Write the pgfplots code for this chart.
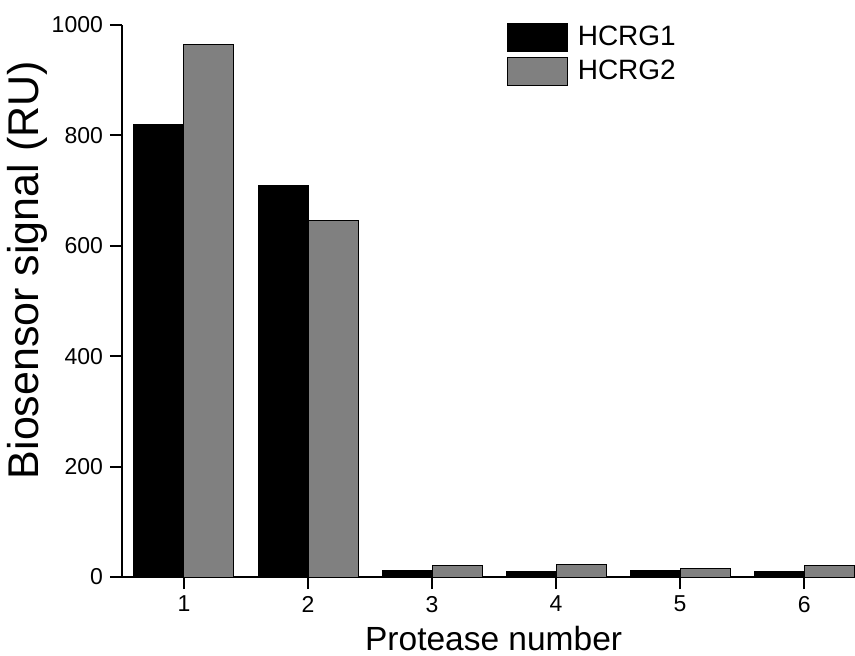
\documentclass[border=0pt]{standalone}
\usepackage{fontspec}
\setmainfont{Liberation Sans}
\usepackage{pgfplots}
\pgfplotsset{compat=1.18}
\definecolor{bargray}{RGB}{128,128,128}
\begin{document}
\begin{tikzpicture}
\begin{axis}[
  scale only axis, width=366.5pt, height=276pt,
  xmin=0.5, xmax=6.41, ymin=0, ymax=1000,
  axis lines*=left,
  axis line style={line width=1pt},
  clip=false,
  ybar=0pt, bar width=25pt,
  xtick={1,...,6}, ytick={0,200,...,1000},
  tick align=outside, major tick length=6pt,
  tick style={line width=1pt, black},
  /pgf/number format/assume math mode=true,
  /pgf/number format/1000 sep={},
  ticklabel style={font=\fontsize{11.5}{13}\selectfont},
  xlabel={Protease number},
  xlabel style={at={(axis description cs:0.507,-0.1322)}, anchor=base, font=\fontsize{16.75}{20}\selectfont},
  ylabel={Biosensor signal (RU)},
  ylabel style={at={(axis description cs:-0.1296,0.556)}, anchor=center, font=\fontsize{21.5}{25}\selectfont},
  legend style={draw=none, fill=none, at={(axis description cs:0.525,1.0036)}, anchor=north west,
    inner sep=0pt, outer sep=0pt, row sep=2.5pt, column sep=5pt, font=\fontsize{14}{16}\selectfont,
    nodes={inner sep=0pt, outer sep=0pt}},
  legend cell align=left,
  legend image code/.code={\draw[#1, line width=0.5pt] (0pt,-7pt) rectangle (30pt,7pt);},
]
\addplot[fill=black, draw=black, line width=0.5pt] coordinates {(1,820) (2,710) (3,11) (4,10) (5,11) (6,10)};
\addplot[fill=bargray, draw=black, line width=0.5pt] coordinates {(1,964) (2,645) (3,20) (4,22) (5,15) (6,20)};
\legend{HCRG1, HCRG2}
\coordinate (bbsw) at (axis description cs:-0.1664,-0.1413);
\coordinate (bbne) at (axis description cs:1.0,1.0453);
\end{axis}
\pgfresetboundingbox
\useasboundingbox (bbsw) rectangle (bbne);
\end{tikzpicture}
\end{document}
